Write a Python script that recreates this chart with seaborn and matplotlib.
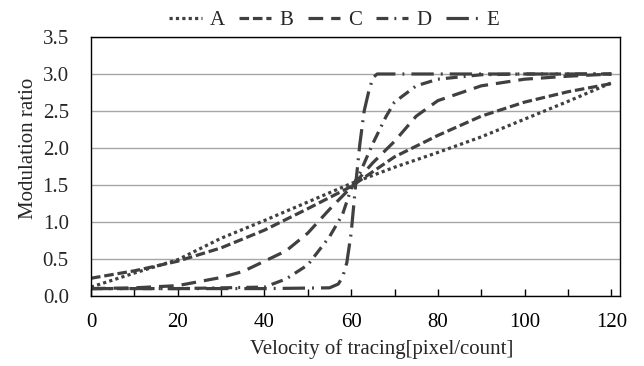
import matplotlib
matplotlib.use('Agg')
import matplotlib.pyplot as plt
import matplotlib.ticker as mticker
import seaborn as sns
import pandas as pd

# Данные кривых
x_a = [0, 10, 20, 30, 40, 50, 60, 70, 80, 90, 100, 110, 120]
y_a = [0.12, 0.31, 0.49, 0.78, 1.02, 1.27, 1.52, 1.74, 1.94, 2.15, 2.39, 2.63, 2.88]

x_b = [0, 10, 20, 30, 40, 50, 60, 70, 80, 90, 100, 110, 120]
y_b = [0.24, 0.34, 0.47, 0.65, 0.89, 1.18, 1.48, 1.88, 2.17, 2.43, 2.62, 2.76, 2.87]

x_c = [0, 10, 20, 30, 35, 40, 45, 50, 55, 60, 65, 70, 75, 80, 90, 100, 110, 120]
y_c = [0.10, 0.11, 0.14, 0.25, 0.33, 0.47, 0.61, 0.85, 1.17, 1.47, 1.80, 2.09, 2.43, 2.64, 2.84, 2.93, 2.97, 3.0]

x_d = [0, 20, 40, 45, 50, 55, 58, 60, 62, 65, 68, 70, 75, 80, 90, 100, 120]
y_d = [0.10, 0.10, 0.12, 0.23, 0.42, 0.80, 1.10, 1.45, 1.66, 2.06, 2.42, 2.62, 2.84, 2.93, 2.99, 3.0, 3.0]

x_e = [0, 20, 40, 55, 57, 58, 59, 60, 61, 62, 63, 64, 65, 66, 80, 100, 120]
y_e = [0.10, 0.10, 0.10, 0.11, 0.16, 0.25, 0.45, 0.85, 1.48, 2.05, 2.50, 2.75, 2.95, 3.0, 3.0, 3.0, 3.0]

series = ['A', 'B', 'C', 'D', 'E']
x_ticks = [0, 20, 40, 60, 80, 100, 120]
y_ticks = [0.0, 0.5, 1.0, 1.5, 2.0, 2.5, 3.0, 3.5]

dfs = []
for name, xs, ys in zip(series, [x_a, x_b, x_c, x_d, x_e], [y_a, y_b, y_c, y_d, y_e]):
    dfs.append(pd.DataFrame({'x': xs, 'y': ys, 'series': name}))
df = pd.concat(dfs, ignore_index=True)

sns.set_style("white")
plt.rcParams['font.family'] = ['Liberation Serif', 'DejaVu Serif']

fig = plt.figure(figsize=(6.44, 3.66), dpi=100)
ax = fig.add_axes([0.1413, 0.1913, 0.8214, 0.7076])

line_color = '#404040'
dashes = {
    'A': (1, 1),
    'B': (3.0, 1.2),
    'C': (4.6, 2.5),
    'D': (3.7, 1.9, 0.6, 1.9),
    'E': (7, 2.2, 0.6, 2.2),
}
sns.lineplot(data=df, x='x', y='y', hue='series', style='series',
             palette=[line_color] * 5, dashes=dashes, linewidth=2.3,
             sort=True, estimator=None, ax=ax)

# Сетка и оси
ax.set_xlim(0, 122)
ax.set_ylim(0, 3.5)
ax.set_xticks(x_ticks)
ax.xaxis.set_minor_locator(mticker.MultipleLocator(10))
ax.set_yticks(y_ticks)
ax.yaxis.set_major_formatter(mticker.FormatStrFormatter('%.1f'))
ax.yaxis.grid(True, color='#a6a6a6', linewidth=1.0)
ax.set_axisbelow(True)
ax.tick_params(axis='x', which='both', direction='in', length=5, width=1, colors='black',
               labelsize=15, pad=12, bottom=True)
ax.tick_params(axis='y', length=0, labelsize=15, pad=16)
for s in ax.spines.values():
    s.set_color('black')
    s.set_linewidth(1.0)

ax.set_xlabel('Velocity of tracing[pixel/count]', fontsize=15, labelpad=5)
ax.set_ylabel('Modulation ratio', fontsize=15, labelpad=3)
ax.xaxis.label.set_x(0.55)
ax.yaxis.label.set_y(0.57)

leg = ax.legend(loc='lower center', bbox_to_anchor=(0.46, 0.995), ncol=5, frameon=False,
                fontsize=15, handlelength=1.55, handletextpad=0.4, columnspacing=0.67,
                borderaxespad=0)

plt.savefig('out.png', dpi=100)
plt.close()
